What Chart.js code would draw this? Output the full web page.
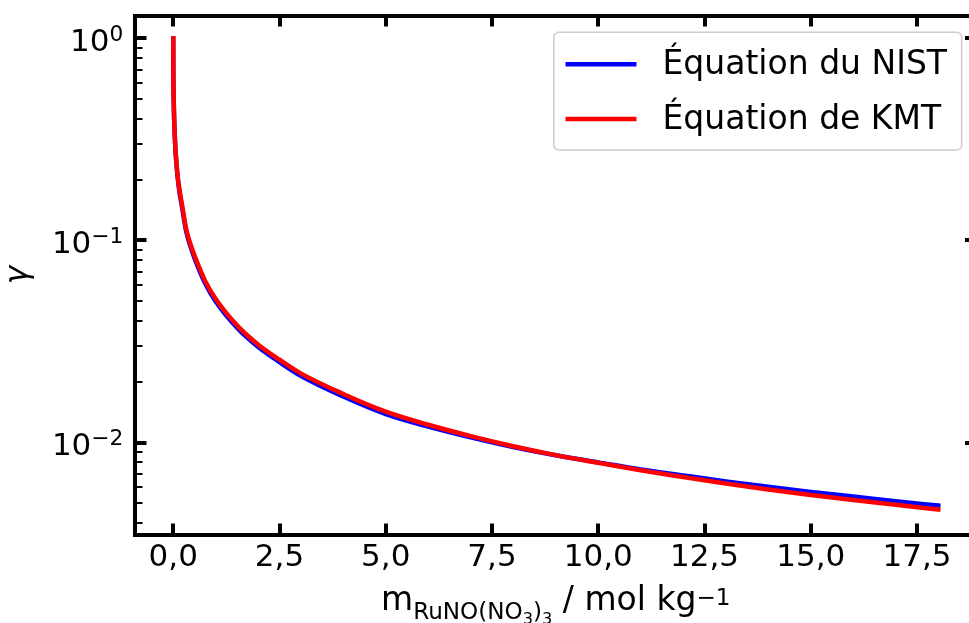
<!DOCTYPE html>
<html><head><meta charset="utf-8">
<script src="https://cdn.jsdelivr.net/npm/chart.js@4/dist/chart.umd.min.js"></script>
<style>
html,body{margin:0;padding:0;overflow:hidden;background:#fff;width:969px;height:623px}
canvas{display:block}
</style>
</head><body>
<canvas id="c" width="990" height="623" style="width:990px;height:623px"></canvas>
<script>
// ---- data ----
const molality = [0, 0.001, 0.005, 0.01, 0.02, 0.03, 0.05, 0.075, 0.1, 0.15, 0.2, 0.3, 0.4, 0.5, 0.75, 1, 1.5, 2, 2.5, 3, 4, 5, 6, 7, 8, 9, 10, 11, 12, 13, 14, 15, 16, 17, 18];
const gammaNIST = [1, 0.776, 0.596, 0.501, 0.402, 0.351, 0.285, 0.240, 0.209, 0.171, 0.149, 0.112, 0.0940, 0.0818, 0.0614, 0.0499, 0.0370, 0.0297, 0.0250, 0.0214, 0.0169, 0.01384, 0.01200, 0.01061, 0.00950, 0.00865, 0.00798, 0.00737, 0.00688, 0.00643, 0.00604, 0.00570, 0.00541, 0.00513, 0.00488];
const gammaKMT  = [1, 0.776, 0.596, 0.501, 0.407, 0.355, 0.288, 0.243, 0.211, 0.176, 0.153, 0.115, 0.0966, 0.0841, 0.0631, 0.0513, 0.0380, 0.0305, 0.0257, 0.0220, 0.0174, 0.01422, 0.01225, 0.01076, 0.00959, 0.00867, 0.00794, 0.00729, 0.00675, 0.00627, 0.00586, 0.00551, 0.00520, 0.00492, 0.00467];
const seriesLabels = ['Équation du NIST', 'Équation de KMT'];
const seriesColors = ['#0000ff', '#ff0000'];
const xRange = [-0.9, 18.9];
const yRange = [0.00351, 1.297];
const xTickValues = [0, 2.5, 5, 7.5, 10, 12.5, 15, 17.5];
const xTickLabels = ['0,0', '2,5', '5,0', '7,5', '10,0', '12,5', '15,0', '17,5'];
const yMajorTicks = [0.01, 0.1, 1];
const yMajorLabelBase = ['10', '10', '10'];
const yMajorLabelExp = ['\u22122', '\u22121', '0'];
const yMinorMultipliers = [2, 3, 4, 5, 6, 7, 8, 9];
const yDecades = [0.001, 0.01, 0.1];
const yTitle = '\u03b3';
const xTitleParts = [
  {text: 'm', level: 0},
  {text: 'RuNO(NO', level: -1},
  {text: '3', level: -2},
  {text: ')', level: -1},
  {text: '3', level: -2},
  {text: ' / mol kg', level: 0},
  {text: '\u22121', level: 1}
];

const yMinorTicks = [];
yDecades.forEach(d => yMinorMultipliers.forEach(k => {
  const v = +(d * k).toPrecision(3);
  if (v > yRange[0] && v < yRange[1]) yMinorTicks.push(v);
}));

const FONT = "'DejaVu Sans', sans-serif";
const TICK_PX = 31;

function pts(ys) { return molality.map((m, i) => ({x: m, y: ys[i]})); }

function setTicks(list) { return scale => { scale.ticks = list.map(v => ({value: v})); }; }

const commonGrid = (len, w) => ({display: true, drawOnChartArea: false, drawTicks: true, tickLength: len, tickWidth: w, tickColor: '#000', color: '#000', lineWidth: w});

// y tick labels (10 with exponent)
const yLabelPlugin = {
  id: 'yLabels',
  afterDraw(chart) {
    const s = chart.scales.y, ctx = chart.ctx;
    ctx.save();
    ctx.fillStyle = '#000';
    ctx.textBaseline = 'alphabetic';
    ctx.textAlign = 'left';
    yMajorTicks.forEach((v, i) => {
      const py = s.getPixelForValue(v);
      const right = chart.chartArea.left - 11.7;
      ctx.font = `${TICK_PX * 0.7}px ${FONT}`;
      const ew = ctx.measureText(yMajorLabelExp[i]).width;
      ctx.font = `${TICK_PX}px ${FONT}`;
      const bw = ctx.measureText(yMajorLabelBase[i]).width;
      const base = py + 12.3;
      ctx.fillText(yMajorLabelBase[i], right - ew - bw, base);
      ctx.font = `${TICK_PX * 0.7}px ${FONT}`;
      ctx.fillText(yMajorLabelExp[i], right - ew, base - 10);
    });
    ctx.restore();
  }
};

// x axis title with subscripts / superscript
const xTitlePlugin = {
  id: 'xTitle',
  afterDraw(chart) {
    const ctx = chart.ctx, ca = chart.chartArea;
    const sizes = {0: 33, '-1': 23.1, '-2': 16.2, 1: 23.1};
    const dys = {0: 0, '-1': 9, '-2': 14, 1: -5};
    ctx.save();
    ctx.fillStyle = '#000';
    ctx.textBaseline = 'alphabetic';
    ctx.textAlign = 'left';
    let total = 0;
    const widths = xTitleParts.map(p => {
      ctx.font = `${sizes[p.level]}px ${FONT}`;
      const w = ctx.measureText(p.text).width;
      total += w;
      return w;
    });
    let x = (ca.left + ca.right) / 2 - total / 2;
    const base = 610;
    xTitleParts.forEach((p, i) => {
      ctx.font = `${sizes[p.level]}px ${FONT}`;
      ctx.fillText(p.text, x, base + dys[p.level]);
      x += widths[i];
    });
    ctx.restore();
  }
};

// framed legend in upper right of plot area
const legendPlugin = {
  id: 'boxLegend',
  afterDraw(chart) {
    const ctx = chart.ctx, ca = chart.chartArea;
    const fs = 33;
    ctx.save();
    ctx.font = `${fs}px ${FONT}`;
    const tw = Math.max(...chart.data.datasets.map(d => ctx.measureText(d.label).width));
    const padL = 11.7, handle = 71, gap = 26, padR = 14.7;
    const w = padL + handle + gap + tw + padR;
    const h = 117.7;
    const right = ca.right - 14.8, top = ca.top + 16.8, left = right - w;
    ctx.beginPath();
    ctx.roundRect(left, top, w, h, 5);
    ctx.fillStyle = 'rgba(255,255,255,0.8)';
    ctx.fill();
    ctx.lineWidth = 1.5;
    ctx.strokeStyle = '#cccccc';
    ctx.stroke();
    const rows = [top + 32, top + 86.7];
    chart.data.datasets.forEach((d, i) => {
      const y = rows[i];
      ctx.beginPath();
      ctx.moveTo(left + padL, y);
      ctx.lineTo(left + padL + handle, y);
      ctx.strokeStyle = d.borderColor;
      ctx.lineWidth = 4.5;
      ctx.lineCap = 'butt';
      ctx.stroke();
      ctx.fillStyle = '#000';
      ctx.textBaseline = 'middle';
      ctx.fillText(d.label, left + padL + handle + gap, y + 1);
    });
    ctx.restore();
  }
};

new Chart(document.getElementById('c'), {
  type: 'line',
  data: {
    datasets: [
      {label: seriesLabels[0], data: pts(gammaNIST), borderColor: seriesColors[0], backgroundColor: seriesColors[0], borderWidth: 4.5, pointRadius: 0, cubicInterpolationMode: 'monotone', borderCapStyle: 'square', order: 2, fill: false},
      {label: seriesLabels[1], data: pts(gammaKMT), borderColor: seriesColors[1], backgroundColor: seriesColors[1], borderWidth: 4.5, pointRadius: 0, cubicInterpolationMode: 'monotone', borderCapStyle: 'square', order: 1, fill: false}
    ]
  },
  options: {
    responsive: false,
    maintainAspectRatio: false,
    animation: false,
    devicePixelRatio: 1,
    layout: {padding: {left: 0, top: 15.5, right: 13.5, bottom: 0}},
    plugins: {legend: {display: false}, tooltip: {enabled: false}, title: {display: false}},
    scales: {
      x: {
        type: 'linear', position: 'bottom', min: xRange[0], max: xRange[1],
        afterBuildTicks: setTicks(xTickValues),
        afterFit: s => { s.height = 88.5; },
        grid: commonGrid(-11, 4),
        border: {display: true, color: '#000', width: 4},
        ticks: {autoSkip: false, maxRotation: 0, padding: 16, color: '#000', font: {family: FONT, size: TICK_PX},
          callback: v => { const i = xTickValues.indexOf(v); return i >= 0 ? xTickLabels[i] : ''; }}
      },
      xTop: {
        type: 'linear', position: 'top', min: xRange[0], max: xRange[1],
        afterBuildTicks: setTicks(xTickValues),
        afterFit: s => { s.height = 0; },
        grid: commonGrid(-11, 4),
        border: {display: true, color: '#000', width: 4},
        ticks: {display: false}
      },
      y: {
        type: 'logarithmic', position: 'left', min: yRange[0], max: yRange[1], weight: 1,
        afterBuildTicks: setTicks(yMajorTicks),
        afterFit: s => { s.width = 135; },
        grid: commonGrid(-11.5, 4),
        border: {display: true, color: '#000', width: 4},
        ticks: {display: false},
        title: {display: true, text: yTitle, color: '#000', padding: {top: 0, bottom: 0}, font: {family: FONT, size: 31, style: 'italic'}}
      },
      yMinor: {
        type: 'logarithmic', position: 'left', min: yRange[0], max: yRange[1], weight: 0,
        afterBuildTicks: setTicks(yMinorTicks),
        afterFit: s => { s.width = 0; },
        grid: commonGrid(-7.5, 2),
        border: {display: false},
        ticks: {display: false}
      },
      yRight: {
        type: 'logarithmic', position: 'right', min: yRange[0], max: yRange[1], weight: 0,
        afterBuildTicks: setTicks(yMajorTicks),
        afterFit: s => { s.width = 0; },
        grid: commonGrid(-11.5, 4),
        border: {display: true, color: '#000', width: 4},
        ticks: {display: false}
      },
      yRightMinor: {
        type: 'logarithmic', position: 'right', min: yRange[0], max: yRange[1], weight: 1,
        afterBuildTicks: setTicks(yMinorTicks),
        afterFit: s => { s.width = 0; },
        grid: commonGrid(-7.5, 2),
        border: {display: false},
        ticks: {display: false}
      }
    }
  },
  plugins: [yLabelPlugin, xTitlePlugin, legendPlugin]
});
</script>
</body></html>
